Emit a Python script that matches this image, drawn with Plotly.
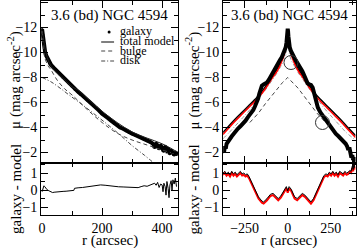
import plotly.graph_objects as go

# ---------------- data: left panel (radial profile) ----------------
gal_r = [0, 2, 4, 6, 8, 10, 14, 20, 25, 30, 40, 50, 60, 70, 80, 90, 100, 110, 120, 130,
         140, 150, 160, 170, 180, 190, 200, 210, 220, 230, 240, 250, 260, 270, 280, 290,
         300, 310, 320, 330, 340, 350, 360, 370, 375, 380, 385, 390, 395, 400, 405, 410,
         415, 420, 425, 430, 435, 440, 445, 448]
gal_mu = [-11.85, -11.45, -11.0, -10.6, -10.3, -10.05, -9.75, -9.4, -9.15, -9.0, -8.75, -8.5,
          -8.25, -8.0, -7.8, -7.55, -7.3, -7.05, -6.85, -6.65, -6.45, -6.2, -6.0, -5.8, -5.6,
          -5.35, -5.1, -4.95, -4.75, -4.55, -4.35, -4.2, -4.0, -3.9, -3.75, -3.6, -3.5, -3.4,
          -3.3, -3.2, -3.05, -2.95, -2.85, -2.7, -2.4, -2.75, -2.5, -2.3, -2.6, -2.4, -2.1,
          -2.5, -2.2, -2.35, -1.9, -2.2, -2.0, -1.8, -2.05, -1.85]

tot_r = [0, 3, 6, 10, 15, 20, 30, 40, 60, 80, 100, 120, 150, 200, 250, 300, 350, 400, 450]
tot_mu = [-11.75, -11.35, -10.85, -10.25, -9.8, -9.4, -8.9, -8.6, -8.13, -7.7, -7.25, -7.0,
          -6.35, -5.3, -4.4, -3.65, -3.15, -2.7, -2.05]

bul_r = [0, 2, 5, 10, 20, 30, 50, 75, 100, 150, 200, 250, 300, 350, 400, 450]
bul_mu = [-11.7, -11.0, -10.2, -9.5, -8.95, -8.6, -7.8, -7.1, -6.6, -5.45, -4.4, -3.55,
          -3.0, -2.6, -2.2, -1.85]

disk_r = [0, 30, 60, 90, 130, 170, 215, 260, 300, 340, 378]
disk_mu = [-8.0, -7.65, -7.15, -6.6, -5.9, -5.15, -4.3, -3.4, -2.55, -1.8, -1.05]

res_r = [0, 3, 6, 9, 12, 16, 20, 25, 30, 35, 40, 50, 60, 70, 80, 90, 100, 106, 108, 112,
         120, 135, 150, 165, 180, 195, 210, 225, 240, 255, 270, 285, 300, 310, 320, 330,
         340, 350, 360, 368, 375, 380, 385, 390, 395, 400, 403, 406, 410, 413, 416, 420,
         423, 426, 430, 433, 436, 440, 444, 448]
res_v = [-0.1, 0.15, 0.25, 0.2, 0.1, 0.03, -0.02, -0.08, -0.12, -0.15, -0.13, -0.1, -0.1,
         -0.08, -0.07, -0.06, -0.05, -0.02, 0.1, 0.12, 0.13, 0.15, 0.18, 0.22, 0.25, 0.3,
         0.28, 0.24, 0.2, 0.19, 0.18, 0.17, 0.15, 0.18, 0.14, 0.2, 0.25, 0.22, 0.3, 0.35,
         0.4, 0.28, 0.45, 0.15, 0.35, 0.3, -0.1, 0.4, 0.2, -0.3, 0.5, 0.1, -0.45, 0.3, 0.55,
         0.0, 0.6, 0.35, 0.7, 0.2]

# ---------------- data: right panel (major-axis cut) ----------------
mg_r = [-376, -370, -365, -360, -355, -345, -335, -325, -315, -300, -290, -275, -260, -245,
        -230, -215, -200, -190, -180, -172, -165, -158, -150, -140, -130, -120, -110, -100,
        -87, -70, -55, -45, -35, -25, -18, -12, -7, -4, -2, 0, 2, 4, 7, 12, 18, 25, 35, 45,
        55, 70, 85, 95, 105, 115, 125, 135, 145, 152, 158, 165, 175, 190, 205, 221, 235,
        250, 265, 279, 295, 310, 325, 337, 345, 352, 358, 362, 366, 370, 375, 380, 385, 390]
mg_mu = [-2.2, -2.0, -2.5, -2.3, -2.7, -2.85, -3.1, -3.3, -3.5, -3.7, -3.9, -4.1, -4.3,
         -4.55, -4.85, -5.1, -5.4, -5.7, -6.0, -6.3, -6.7, -7.1, -7.35, -7.45, -7.5, -7.6,
         -7.8, -8.05, -8.5, -8.9, -9.2, -9.4, -9.6, -9.9, -10.15, -10.4, -10.8, -11.3, -11.7,
         -11.9, -11.7, -11.3, -10.8, -10.4, -10.15, -9.9, -9.6, -9.4, -9.2, -8.9, -8.5, -8.2,
         -7.8, -7.55, -7.45, -7.4, -7.2, -6.8, -6.3, -5.9, -5.6, -5.2, -4.9, -4.6, -4.3,
         -4.05, -3.8, -3.5, -3.3, -3.1, -2.9, -2.7, -2.5, -2.2, -2.4, -1.9, -2.1, -1.6,
         -1.8, -1.4, -1.6, -1.25]

mm_r = [-376, -350, -310, -270, -230, -190, -160, -125, -90, -60, -40, -20, -10, -5, 0,
        5, 10, 20, 40, 60, 90, 125, 160, 190, 230, 270, 310, 350, 394]
red_mu = [-3.45, -3.85, -4.45, -5.0, -5.55, -6.1, -6.55, -7.2, -7.95, -8.55, -9.1, -9.85,
          -10.5, -11.0, -11.75, -11.0, -10.5, -9.85, -9.1, -8.55, -7.95, -7.2, -6.55, -6.1,
          -5.55, -5.0, -4.45, -3.85, -3.2]
blk_mu = [-3.6, -4.0, -4.6, -5.15, -5.7, -6.25, -6.7, -7.35, -8.1, -8.7, -9.25, -10.0,
          -10.6, -11.1, -11.8, -11.1, -10.6, -10.0, -9.25, -8.7, -8.1, -7.35, -6.7, -6.25,
          -5.7, -5.15, -4.6, -4.0, -3.35]

md_r = [-220, -170, -130, -90, -60, -30, 0, 30, 60, 90, 130, 170, 220]
md_mu = [-4.4, -5.15, -5.9, -6.6, -7.15, -7.6, -8.0, -7.6, -7.15, -6.6, -5.9, -5.15, -4.4]

mb_r = [-376, -340, -300, -260, -215, -170, -130, -90, -60, -40, -20, -10, 0, 10, 20, 40,
        60, 90, 130, 170, 215, 260, 300, 340, 394]
mb_mu = [-3.1, -3.6, -4.2, -4.8, -5.5, -6.3, -7.0, -7.8, -8.4, -8.9, -9.4, -9.9, -11.3,
         -9.9, -9.4, -8.9, -8.4, -7.8, -7.0, -6.3, -5.5, -4.8, -4.2, -3.6, -3.0]

circ_r = [19, 202]
circ_mu = [-9.2, -4.4]

rr_r = [-376, -365, -355, -345, -335, -325, -315, -305, -295, -285, -275, -265, -255, -245,
        -235, -225, -210, -190, -170, -150, -140, -120, -100, -85, -70, -55, -40, -20, -8,
        0, 8, 20, 40, 55, 70, 85, 100, 120, 135, 150, 170, 190, 210, 222, 232, 242, 252,
        262, 272, 282, 292, 302, 312, 322, 332, 342, 352, 360, 368, 375, 380, 385, 390]
rr_blk = [1.0, 1.1, 0.95, 1.05, 0.9, 1.1, 0.95, 1.05, 0.9, 1.0, 1.1, 0.95, 1.0, 0.9, 0.95,
          0.8, 0.45, 0.0, -0.4, -0.65, -0.7, -0.5, -0.25, -0.2, -0.35, -0.5, -0.35, 0.05,
          0.2, -0.05, 0.2, 0.05, -0.4, -0.5, -0.35, -0.2, -0.3, -0.55, -0.7, -0.5, -0.05,
          0.4, 0.85, 0.95, 0.9, 1.05, 0.95, 1.1, 0.95, 1.05, 0.9, 1.1, 1.0, 0.95, 1.1, 1.0,
          1.05, 1.15, 1.1, 1.4, 1.2, 1.6, 1.3]
rr_red = [0.9, 1.0, 0.85, 0.95, 0.8, 1.0, 0.85, 0.95, 0.8, 0.9, 1.0, 0.85, 0.9, 0.8, 0.85,
          0.7, 0.35, -0.1, -0.5, -0.75, -0.8, -0.6, -0.35, -0.3, -0.45, -0.6, -0.45, -0.05,
          0.1, -0.15, 0.1, -0.05, -0.5, -0.6, -0.45, -0.3, -0.4, -0.65, -0.8, -0.6, -0.15,
          0.3, 0.75, 0.85, 0.8, 0.95, 0.85, 1.0, 0.85, 0.95, 0.8, 1.0, 0.9, 0.85, 1.0, 0.9,
          0.95, 1.05, 1.0, 1.3, 1.1, 1.5, 1.2]

title_text = "3.6 (bd) NGC 4594"
legend_names = ["galaxy", "total model", "bulge", "disk"]

# ---------------- figure ----------------
W, H = 360, 248
FONT = "Liberation Serif"


def px(x):
    return x / W


def py(y):
    return 1 - y / H


fig = go.Figure()

# left main
fig.add_trace(go.Scatter(x=gal_r, y=gal_mu, mode="lines", line=dict(color="black", width=4),
                         xaxis="x", yaxis="y", showlegend=False))
fig.add_trace(go.Scatter(x=gal_r, y=gal_mu, mode="markers", marker=dict(color="black", size=3),
                         xaxis="x", yaxis="y", name=legend_names[0], showlegend=False))
fig.add_trace(go.Scatter(x=tot_r, y=tot_mu, mode="lines", line=dict(color="#222", width=1),
                         xaxis="x", yaxis="y", name=legend_names[1], showlegend=False,
                         line_shape="spline"))
fig.add_trace(go.Scatter(x=bul_r, y=bul_mu, mode="lines",
                         line=dict(color="#444", width=1, dash="4px,3px"),
                         xaxis="x", yaxis="y", name=legend_names[2], showlegend=False,
                         line_shape="spline"))
fig.add_trace(go.Scatter(x=disk_r, y=disk_mu, mode="lines",
                         line=dict(color="#444", width=1, dash="4px,2px,1px,2px"),
                         xaxis="x", yaxis="y", name=legend_names[3], showlegend=False,
                         line_shape="spline"))
# left residual
fig.add_trace(go.Scatter(x=res_r, y=res_v, mode="lines", line=dict(color="black", width=1),
                         xaxis="x2", yaxis="y2", showlegend=False))

# right main
fig.add_trace(go.Scatter(x=mb_r, y=mb_mu, mode="lines",
                         line=dict(color="#999", width=1, dash="4px,2px,1px,2px"),
                         xaxis="x3", yaxis="y3", showlegend=False, line_shape="spline"))
fig.add_trace(go.Scatter(x=md_r, y=md_mu, mode="lines",
                         line=dict(color="#444", width=1, dash="4px,3px"),
                         xaxis="x3", yaxis="y3", showlegend=False))
fig.add_trace(go.Scatter(x=mm_r, y=blk_mu, mode="lines", line=dict(color="black", width=1.5),
                         xaxis="x3", yaxis="y3", showlegend=False, line_shape="spline"))
fig.add_trace(go.Scatter(x=mm_r, y=red_mu, mode="lines", line=dict(color="red", width=1.5),
                         xaxis="x3", yaxis="y3", showlegend=False, line_shape="spline"))
fig.add_trace(go.Scatter(x=mg_r, y=mg_mu, mode="lines", line=dict(color="black", width=4),
                         xaxis="x3", yaxis="y3", showlegend=False))
fig.add_trace(go.Scatter(x=circ_r, y=circ_mu, mode="markers",
                         marker=dict(symbol="circle-open", size=14, color="#333",
                                     line=dict(width=1)),
                         xaxis="x3", yaxis="y3", showlegend=False))
# right residual
fig.add_trace(go.Scatter(x=rr_r, y=rr_red, mode="lines", line=dict(color="red", width=2),
                         xaxis="x4", yaxis="y4", showlegend=False))
fig.add_trace(go.Scatter(x=rr_r, y=rr_blk, mode="lines", line=dict(color="black", width=1),
                         xaxis="x4", yaxis="y4", showlegend=False))

tickfont = dict(family=FONT, size=14, color="black")
common = dict(showgrid=False, zeroline=False, showline=True, linecolor="black", linewidth=1,
              mirror="allticks", ticks="inside", ticklen=7, tickwidth=1, tickcolor="black",
              tickfont=tickfont)

LX = [px(38.5), px(176.5)]
RX = [px(222), px(355.5)]
MAINY = [py(163), py(1)]
RESY = [py(215), py(163)]

fig.update_layout(
    width=W, height=H, margin=dict(l=0, r=0, t=0, b=0),
    paper_bgcolor="white", plot_bgcolor="white", showlegend=False,
    xaxis=dict(domain=LX, anchor="y", range=[-3, 453], dtick=200, tick0=0,
               showticklabels=False, minor=dict(dtick=100, ticklen=4, ticks="inside",
                                                tickcolor="black"), **common),
    yaxis=dict(domain=MAINY, anchor="x", range=[-1.16, -14.12], dtick=2, tick0=0,
               minor=dict(dtick=1, ticklen=4, ticks="inside", tickcolor="black"), **common),
    xaxis2=dict(domain=LX, anchor="y2", range=[-3, 453], dtick=200, tick0=0,
                minor=dict(dtick=100, ticklen=4, ticks="inside", tickcolor="black"), **common),
    yaxis2=dict(domain=RESY, anchor="x2", range=[-1.47, 1.59], dtick=1, tick0=0,
                minor=dict(dtick=0.5, ticklen=4, ticks="inside", tickcolor="black"), **common),
    xaxis3=dict(domain=RX, anchor="y3", range=[-375, 394], dtick=250, tick0=0,
                showticklabels=False, minor=dict(dtick=125, ticklen=4, ticks="inside",
                                                 tickcolor="black"), **common),
    yaxis3=dict(domain=MAINY, anchor="x3", range=[-1.16, -14.12], dtick=2, tick0=0,
                minor=dict(dtick=1, ticklen=4, ticks="inside", tickcolor="black"), **common),
    xaxis4=dict(domain=RX, anchor="y4", range=[-375, 394], dtick=250, tick0=0,
                minor=dict(dtick=125, ticklen=4, ticks="inside", tickcolor="black"), **common),
    yaxis4=dict(domain=RESY, anchor="x4", range=[-1.47, 1.59], dtick=1, tick0=0,
                minor=dict(dtick=0.5, ticklen=4, ticks="inside", tickcolor="black"), **common),
)

ann = []
lab = dict(family=FONT, size=15, color="black")
for cx, tx in [(107.5, title_text), (288.5, title_text)]:
    ann.append(dict(text=tx, x=px(cx), y=py(15), xref="paper", yref="paper", showarrow=False,
                    xanchor="center", yanchor="middle", font=lab))
for cx in [107.5, 288.5]:
    ann.append(dict(text="r (arcsec)", x=px(cx), y=py(240.5), xref="paper", yref="paper",
                    showarrow=False, xanchor="center", yanchor="middle", font=lab))
for cx in [12, 192]:
    ann.append(dict(text="μ (mag arcsec<sup>-2</sup>)", x=px(cx), y=py(80), xref="paper",
                    yref="paper", showarrow=False, textangle=-90, xanchor="center",
                    yanchor="middle", font=lab))
    ann.append(dict(text="galaxy - model", x=px(cx + 1), y=py(189), xref="paper",
                    yref="paper", showarrow=False, textangle=-90, xanchor="center",
                    yanchor="middle", font=lab))

# manual compact legend
leg_font = dict(family=FONT, size=12, color="black")
leg_y = [31, 41, 50.5, 60]
for name, yy in zip(legend_names, leg_y):
    ann.append(dict(text=name, x=px(116), y=py(yy), xref="paper", yref="paper",
                    showarrow=False, xanchor="left", yanchor="middle", font=leg_font))
fig.update_layout(annotations=ann)

shapes = [
    dict(type="circle", xref="paper", yref="paper", x0=px(105.5), x1=px(108.5),
         y0=py(33.5), y1=py(30.5), fillcolor="black", line=dict(color="black", width=0)),
    dict(type="line", xref="paper", yref="paper", x0=px(99), x1=px(112), y0=py(42), y1=py(42),
         line=dict(color="black", width=1)),
    dict(type="line", xref="paper", yref="paper", x0=px(99), x1=px(112), y0=py(51), y1=py(51),
         line=dict(color="#444", width=1, dash="4px,3px")),
    dict(type="line", xref="paper", yref="paper", x0=px(99), x1=px(112), y0=py(61), y1=py(61),
         line=dict(color="#444", width=1, dash="4px,2px,1px,2px")),
]
fig.update_layout(shapes=shapes)

fig.write_html("out.html", config={"displayModeBar": False},
               post_script="document.body.style.margin='0px';")
